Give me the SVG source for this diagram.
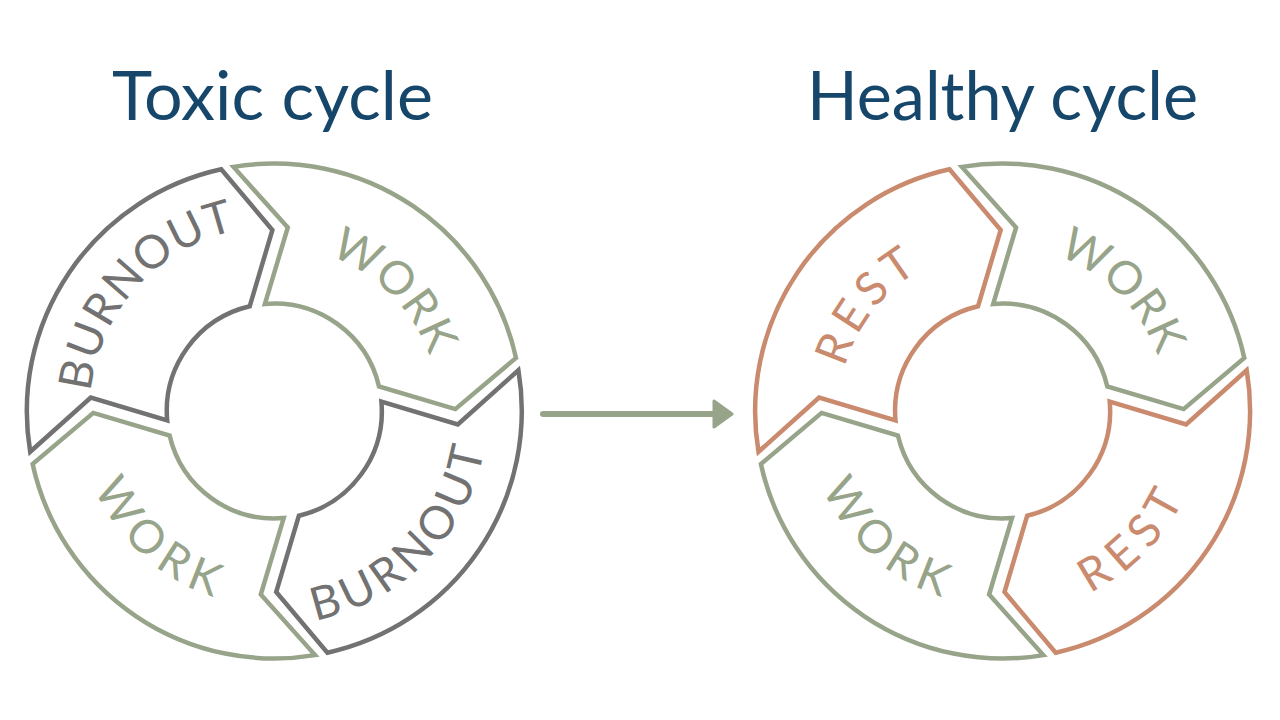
<svg xmlns="http://www.w3.org/2000/svg" xmlns:xlink="http://www.w3.org/1999/xlink" width="1280" height="720" viewBox="0 0 1280 720">
  <style>
    .seg { fill: #ffffff; stroke-width: 4.5; stroke-linejoin: miter; stroke-miterlimit: 10; }
    .green { stroke: #97a48a; }
    .gray { stroke: #727272; }
    .rest { stroke: #c98a6e; }
    .lbl { font-family: Lato, "Open Sans", "Noto Sans", sans-serif; font-size: 46px; font-weight: 400; }
    .tgreen { fill: #97a48a; }
    .tgray { fill: #727272; }
    .trest { fill: #c98a6e; }
    .title { font-family: Lato, "Open Sans", "Noto Sans", sans-serif; font-size: 68px; fill: #16476b; }
  </style>
  <defs>
    <path id="segShape" d="M -40.8 -244.1 A 247.5 247.5 0 0 1 241.7 -53.1 L 181 -1.9 L 104.7 -24.6 A 107.5 107.5 0 0 0 -9.4 -107.1 L 13.5 -183.5 Z"/>
    <path id="arcTR" d="M -42.6 -158.9 A 164.5 164.5 0 0 1 158.9 42.6"/>
    <path id="arcTLb" d="M -175.5 57.0 A 184.5 184.5 0 0 1 38.4 -180.5"/>
    <path id="arcBRb" d="M -51.6 207.2 A 213.5 213.5 0 0 0 205.2 -58.8"/>
    <path id="arcBL" d="M -191.6 -38.6 A 195.5 195.5 0 0 0 62.4 185.3"/>
    <path id="arcTLr" d="M -151.6 61.2 A 163.5 163.5 0 0 1 22.8 -161.9"/>
    <path id="arcBRr" d="M -48.7 195.5 A 201.5 201.5 0 0 0 193.7 -55.5"/>
    <marker id="arrowHead" viewBox="0 0 22 30" refX="2" refY="15" markerWidth="22" markerHeight="30" markerUnits="userSpaceOnUse" orient="auto">
      <path d="M 2 2 L 20 15 L 2 28 Z" fill="#97a48a" stroke="#97a48a" stroke-width="3" stroke-linejoin="round"/>
    </marker>
  </defs>
  <rect width="1280" height="720" fill="#ffffff"/>

  <g id="title-toxic">
    <text class="title" x="112" y="120" textLength="321" lengthAdjust="spacingAndGlyphs">Toxic cycle</text>
  </g>
  <g id="title-healthy">
    <text class="title" x="807" y="120" textLength="391" lengthAdjust="spacingAndGlyphs">Healthy cycle</text>
  </g>

  <!-- Toxic cycle -->
  <g id="toxic-cycle" transform="translate(274.3 411)">
    <g id="toxic-work-1">
      <use xlink:href="#segShape" href="#segShape" class="seg green"/>
      <text class="lbl tgreen" letter-spacing="1"><textPath xlink:href="#arcTR" href="#arcTR" startOffset="50%" text-anchor="middle">WORK</textPath></text>
    </g>
    <g id="toxic-burnout-1">
      <use xlink:href="#segShape" href="#segShape" class="seg gray" transform="rotate(90)"/>
      <text class="lbl tgray" letter-spacing="5"><textPath xlink:href="#arcBRb" href="#arcBRb" startOffset="50%" text-anchor="middle">BURNOUT</textPath></text>
    </g>
    <g id="toxic-work-2">
      <use xlink:href="#segShape" href="#segShape" class="seg green" transform="rotate(180)"/>
      <text class="lbl tgreen" letter-spacing="7.5"><textPath xlink:href="#arcBL" href="#arcBL" startOffset="50%" text-anchor="middle">WORK</textPath></text>
    </g>
    <g id="toxic-burnout-2">
      <use xlink:href="#segShape" href="#segShape" class="seg gray" transform="rotate(270)"/>
      <text class="lbl tgray" letter-spacing="1"><textPath xlink:href="#arcTLb" href="#arcTLb" startOffset="50%" text-anchor="middle">BURNOUT</textPath></text>
    </g>
  </g>

  <!-- Healthy cycle -->
  <g id="healthy-cycle" transform="translate(1002.6 411)">
    <g id="healthy-work-1">
      <use xlink:href="#segShape" href="#segShape" class="seg green"/>
      <text class="lbl tgreen" letter-spacing="1"><textPath xlink:href="#arcTR" href="#arcTR" startOffset="50%" text-anchor="middle">WORK</textPath></text>
    </g>
    <g id="healthy-rest-1">
      <use xlink:href="#segShape" href="#segShape" class="seg rest" transform="rotate(90)"/>
      <text class="lbl trest" letter-spacing="9"><textPath xlink:href="#arcBRr" href="#arcBRr" startOffset="50%" text-anchor="middle">REST</textPath></text>
    </g>
    <g id="healthy-work-2">
      <use xlink:href="#segShape" href="#segShape" class="seg green" transform="rotate(180)"/>
      <text class="lbl tgreen" letter-spacing="7.5"><textPath xlink:href="#arcBL" href="#arcBL" startOffset="50%" text-anchor="middle">WORK</textPath></text>
    </g>
    <g id="healthy-rest-2">
      <use xlink:href="#segShape" href="#segShape" class="seg rest" transform="rotate(270)"/>
      <text class="lbl trest" letter-spacing="5.5"><textPath xlink:href="#arcTLr" href="#arcTLr" startOffset="50%" text-anchor="middle">REST</textPath></text>
    </g>
  </g>

  <g id="connectors">
    <line x1="543" y1="414" x2="714" y2="414" stroke="#97a48a" stroke-width="6" stroke-linecap="round" marker-end="url(#arrowHead)"/>
  </g>
</svg>
